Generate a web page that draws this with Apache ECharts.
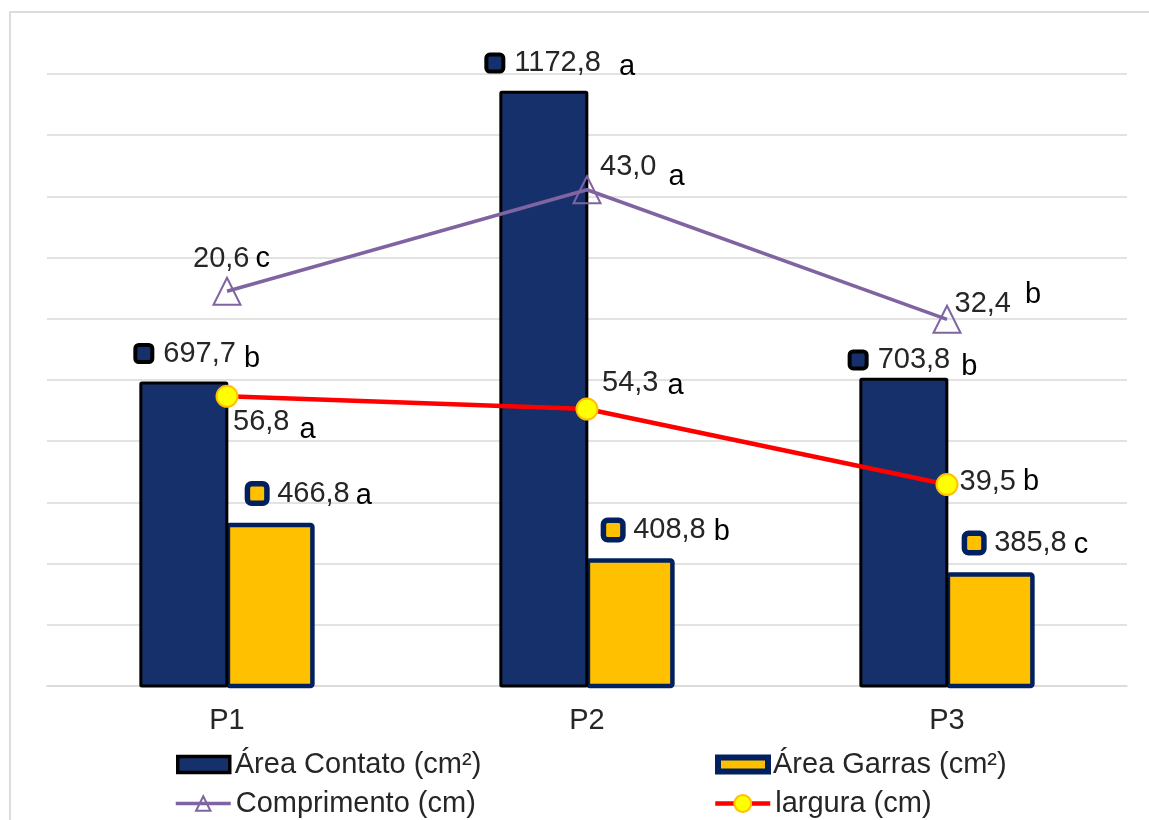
<!DOCTYPE html>
<html>
<head>
<meta charset="utf-8">
<script src="https://cdn.jsdelivr.net/npm/echarts@6/dist/echarts.min.js"></script>
<style>
  html, body { margin: 0; padding: 0; background: #fff; overflow: hidden; }
  #frame { position: absolute; left: 9px; top: 11px; width: 1300px; height: 1000px;
           border: 2px solid #dcdcdc; box-sizing: border-box; pointer-events: none; z-index: 2; }
  #chart { position: absolute; left: 0; top: 0; width: 1149px; height: 820px; }
</style>
</head>
<body>
<div id="chart"></div>
<div id="frame"></div>
<script>
// Categories and measured values
const categories = ['P1', 'P2', 'P3'];
const areaContato = [697.7, 1172.8, 703.8];
const areaGarras = [466.8, 408.8, 385.8];
const comprimento = [20.6, 43.0, 32.4];
const largura = [56.8, 54.3, 39.5];

// Significance letters shown next to each value
const letrasContato = ['b', 'a', 'b'];
const letrasGarras = ['a', 'b', 'c'];
const letrasComprimento = ['c', 'a', 'b'];
const letrasLargura = ['a', 'a', 'b'];

// Axis ranges (left: areas, right: lengths, stacked lines)
const areaAxis = { min: 200, max: 1200, interval: 100 };
const cmAxis = { min: 0, max: 120 };

const nomes = {
  contato: 'Área Contato (cm²)',
  garras: 'Área Garras (cm²)',
  comprimento: 'Comprimento (cm)',
  largura: 'largura (cm)'
};

// Label placement: [dx, dy, gap before letter, letter drop]
const placeContato = [[-2, -27.9, 9, 5], [-11, -27.6, 19, 4], [-7.7, -17.7, 12, 7]];
const placeGarras = [[24.5, -29.2, 7, 2], [20.5, -28.2, 9, 2], [21.5, -29.3, 8, 2]];
const placeComprimento = [[-48.5, -31.8, 7, 0], [-1.5, -22.8, 13, 10], [-7, -15.3, 15, -9]];
const placeLargura = [[-5.5, 25.2, 11, 8], [3.5, -26, 10, 3], [1, -2.5, 8, 0]];

const FONT = '"Liberation Sans", Arial, sans-serif';
const FS = 29;
const TXT = '#262626';
const NAVY = '#15306A';
const GOLD = '#FFC000';
const DEEP = '#002060';
const PURPLE = '#8064A2';
const RED = '#FF0000';

const fmt = v => v.toFixed(1).replace('.', ',');

function numStyle(padLeft) {
  return { fontSize: FS, fontFamily: FONT, color: TXT, padding: [0, 0, 0, padLeft], verticalAlign: 'middle' };
}
function letterStyle(gap, drop) {
  const pl = Math.max(0, gap - 1);
  const pad = drop >= 0 ? [2 * drop, 0, 0, pl] : [0, 0, -2 * drop, pl];
  return { fontSize: FS, fontFamily: FONT, color: '#000', padding: pad, verticalAlign: 'middle' };
}

const keyContato = { width: 13, height: 13, backgroundColor: NAVY, borderColor: '#000', borderWidth: 4, borderRadius: 1.5, verticalAlign: 'middle' };
const keyGarras = { width: 14, height: 14, backgroundColor: GOLD, borderColor: DEEP, borderWidth: 5.5, borderRadius: 1.5, verticalAlign: 'middle' };

function barItems(values, letters, key, place) {
  return values.map((v, i) => ({
    value: v,
    label: {
      show: true,
      position: [place[i][0], place[i][1]],
      align: 'left',
      verticalAlign: 'middle',
      formatter: '{k|}{v|' + fmt(v) + '}{l|' + letters[i] + '}',
      rich: { k: key, v: numStyle(13), l: letterStyle(place[i][2], place[i][3]) }
    }
  }));
}

function lineItems(values, letters, place) {
  return values.map((v, i) => ({
    value: v,
    label: {
      show: true,
      position: 'right',
      distance: 0,
      offset: [place[i][0], place[i][1]],
      formatter: '{v|' + fmt(v) + '}{l|' + letters[i] + '}',
      rich: { v: numStyle(0), l: letterStyle(place[i][2], place[i][3]) }
    }
  }));
}

const chart = echarts.init(document.getElementById('chart'), null, { renderer: 'canvas' });

const legendBase = {
  orient: 'horizontal',
  padding: 0,
  selectedMode: false,
  itemWidth: 55,
  textStyle: { fontSize: FS, fontFamily: FONT, color: TXT }
};

chart.setOption({
  animation: false,
  backgroundColor: '#fff',
  grid: { left: 47, right: 22, top: 74, bottom: 134 },
  legend: [
    Object.assign({}, legendBase, {
      left: 176, top: 750, itemWidth: 52, itemHeight: 16,
      data: [{ name: nomes.contato, icon: 'rect', itemStyle: { color: NAVY, borderColor: '#000', borderWidth: 3.5 } }]
    }),
    Object.assign({}, legendBase, {
      left: 715, top: 750, itemWidth: 50, itemHeight: 14,
      data: [{ name: nomes.garras, icon: 'rect', itemStyle: { color: GOLD, borderColor: DEEP, borderWidth: 6 } }]
    }),
    Object.assign({}, legendBase, {
      left: 174, top: 789, itemHeight: 18,
      data: [{ name: nomes.comprimento, lineStyle: { color: PURPLE, width: 3.5 } }]
    }),
    Object.assign({}, legendBase, {
      left: 713, top: 789, itemHeight: 21,
      data: [{ name: nomes.largura, lineStyle: { color: RED, width: 4.5 } }]
    })
  ],
  xAxis: {
    type: 'category',
    data: categories,
    axisTick: { show: false },
    axisLine: { show: true, lineStyle: { color: '#d9d9d9', width: 1.5 } },
    axisLabel: { fontSize: FS, fontFamily: FONT, color: TXT, margin: 20 }
  },
  yAxis: [
    {
      type: 'value',
      min: areaAxis.min, max: areaAxis.max, interval: areaAxis.interval,
      axisLabel: { show: false },
      axisLine: { show: false },
      axisTick: { show: false },
      splitLine: { show: true, lineStyle: { color: '#d9d9d9', width: 1.5 } }
    },
    {
      type: 'value',
      show: false,
      min: cmAxis.min, max: cmAxis.max,
      splitLine: { show: false }
    }
  ],
  series: [
    {
      name: nomes.contato,
      type: 'bar',
      barWidth: 89,
      barGap: '-3%',
      clip: true,
      z: 3,
      itemStyle: { color: NAVY, borderColor: '#000', borderWidth: 3, borderRadius: 1 },
      data: barItems(areaContato, letrasContato, keyContato, placeContato)
    },
    {
      name: nomes.garras,
      type: 'bar',
      barWidth: 89,
      barGap: '-3%',
      clip: true,
      z: 2,
      itemStyle: { color: GOLD, borderColor: DEEP, borderWidth: 4.5, borderRadius: 2 },
      data: barItems(areaGarras, letrasGarras, keyGarras, placeGarras)
    },
    {
      name: nomes.largura,
      type: 'line',
      yAxisIndex: 1,
      stack: 'medidas',
      symbol: 'circle',
      symbolSize: 21,
      z: 4,
      itemStyle: { color: '#FFFF00', borderColor: GOLD, borderWidth: 2 },
      lineStyle: { color: RED, width: 4.5 },
      data: lineItems(largura, letrasLargura, placeLargura)
    },
    {
      name: nomes.comprimento,
      type: 'line',
      yAxisIndex: 1,
      stack: 'medidas',
      symbol: 'triangle',
      symbolSize: 27,
      z: 4,
      itemStyle: { color: 'rgba(255,255,255,0)', borderColor: PURPLE, borderWidth: 2 },
      lineStyle: { color: PURPLE, width: 3.5 },
      data: lineItems(comprimento, letrasComprimento, placeComprimento)
    }
  ]
});
</script>
</body>
</html>
